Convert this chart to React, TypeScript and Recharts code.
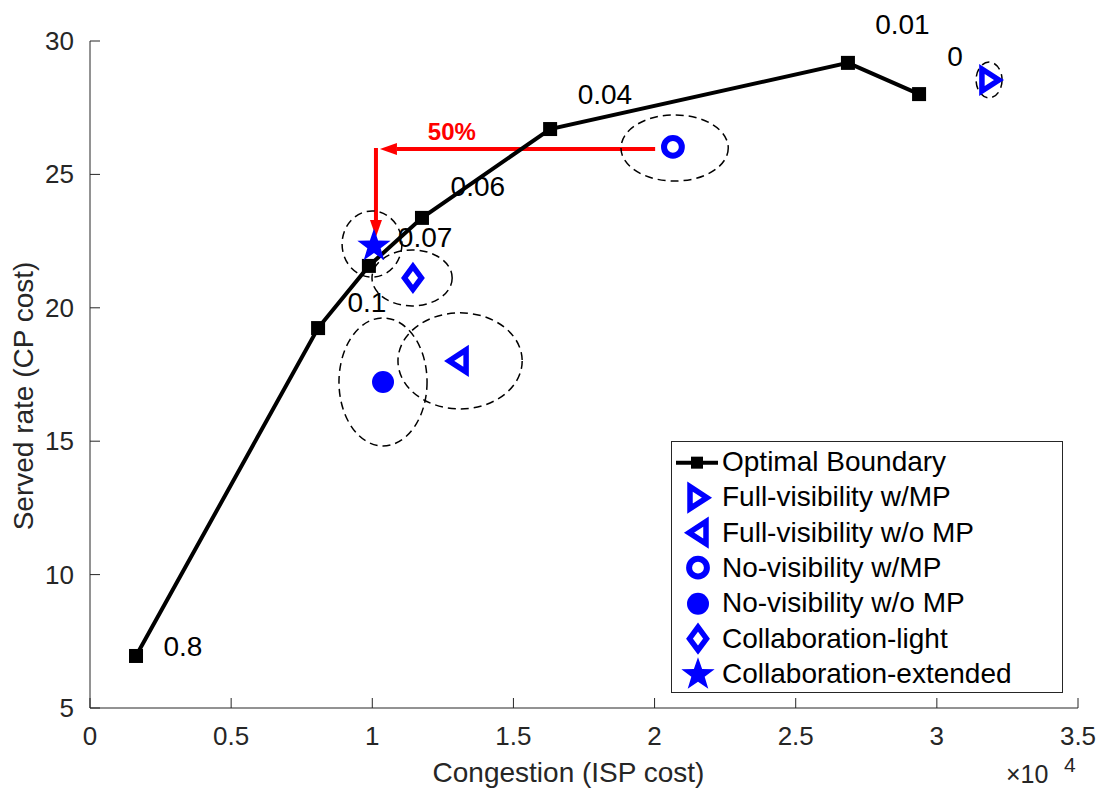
import React from "react";
import {
  ScatterChart,
  Scatter,
  XAxis,
  YAxis,
  ReferenceLine,
  ReferenceDot,
} from "recharts";

const FONT = "'Liberation Sans', Arial, Helvetica, sans-serif";
const BLUE = "#0000ff";
const RED = "#ff0000";
const AXIS = "#262626";

// chart frame
const W = 1102;
const H = 789;
const MARGIN = { top: 41, right: 24, left: 0, bottom: 0 };
const Y_AXIS_W = 90;
const X_AXIS_H = 81;

const X_TICKS = [0, 0.5, 1, 1.5, 2, 2.5, 3, 3.5];
const Y_TICKS = [5, 10, 15, 20, 25, 30];

// pixels per axis unit (used for the dashed spread ellipses)
const PX_X = (W - MARGIN.right - Y_AXIS_W) / 3.5;
const PX_Y = (H - MARGIN.top - X_AXIS_H) / 25;

// Optimal boundary (x in 1e4 units)
const boundaryX = [0.163, 0.808, 0.988, 1.176, 1.63, 2.685, 2.937];
const boundaryY = [6.95, 19.24, 21.57, 23.37, 26.7, 29.18, 28.01];

// weight labels along the boundary
const weightLabels = ["0.8", "0.1", "0.07", "0.06", "0.04", "0.01", "0"];
const weightLabelX = [0.329, 0.981, 1.187, 1.374, 1.824, 2.878, 3.064];
const weightLabelY = [7.29, 20.18, 22.62, 24.53, 27.99, 30.6, 29.42];

// schemes
const schemeNames = [
  "Full-visibility w/MP",
  "Full-visibility w/o MP",
  "No-visibility w/MP",
  "No-visibility w/o MP",
  "Collaboration-light",
  "Collaboration-extended",
];
const schemeMarkers = ["triRight", "triLeft", "circle", "dot", "diamond", "star"];
const schemeX = [3.188, 1.304, 2.065, 1.038, 1.144, 1.006];
const schemeY = [28.54, 18.01, 26.03, 17.22, 21.12, 22.35];

// spread of each scheme (dashed ellipses), half-widths in axis units
const spreadX = [3.185, 1.311, 2.071, 1.038, 1.141, 0.999];
const spreadY = [28.54, 18.01, 25.99, 17.22, 21.12, 22.39];
const spreadRx = [0.046, 0.22, 0.19, 0.156, 0.142, 0.106];
const spreadRy = [0.67, 1.8, 1.24, 2.4, 1.05, 1.24];

// red "50%" arrow
const arrowH = [
  { x: 2.002, y: 25.95 },
  { x: 1.027, y: 25.95 },
];
const arrowV = [
  { x: 1.013, y: 25.99 },
  { x: 1.013, y: 22.65 },
];

const boundary = boundaryX.map((x, i) => ({ x, y: boundaryY[i] }));
const spreads = spreadX.map((x, i) => ({
  x,
  y: spreadY[i],
  rx: spreadRx[i],
  ry: spreadRy[i],
}));

function starPoints(cx: number, cy: number, R: number, r: number) {
  const pts: string[] = [];
  for (let i = 0; i < 10; i++) {
    const rad = i % 2 === 0 ? R : r;
    const a = ((-90 + 36 * i) * Math.PI) / 180;
    pts.push(`${cx + rad * Math.cos(a)},${cy + rad * Math.sin(a)}`);
  }
  return pts.join(" ");
}

function Marker({ kind, cx, cy }: { kind: string; cx: number; cy: number }) {
  const sw = 5.5;
  switch (kind) {
    case "triRight":
      return (
        <polygon
          points={`${cx - 8},${cy - 11} ${cx + 9},${cy} ${cx - 8},${cy + 11}`}
          fill="none"
          stroke={BLUE}
          strokeWidth={sw}
        />
      );
    case "triLeft":
      return (
        <polygon
          points={`${cx + 8},${cy - 11} ${cx - 9},${cy} ${cx + 8},${cy + 11}`}
          fill="none"
          stroke={BLUE}
          strokeWidth={sw}
        />
      );
    case "circle":
      return <circle cx={cx} cy={cy} r={8.9} fill="none" stroke={BLUE} strokeWidth={6} />;
    case "dot":
      return <circle cx={cx} cy={cy} r={11} fill={BLUE} />;
    case "diamond":
      return (
        <polygon
          points={`${cx},${cy - 11.5} ${cx + 8.5},${cy} ${cx},${cy + 11.5} ${cx - 8.5},${cy}`}
          fill="none"
          stroke={BLUE}
          strokeWidth={sw}
        />
      );
    case "star":
      return <polygon points={starPoints(cx, cy + 1, 17.5, 7)} fill={BLUE} />;
    default:
      return null;
  }
}

const XTick = (p: any) => (
  <g>
    <line x1={p.x} y1={p.y} x2={p.x} y2={p.y - 10} stroke={AXIS} />
    <text
      x={p.x}
      y={p.y + 37}
      textAnchor="middle"
      fontSize={26}
      fill={AXIS}
      fontFamily={FONT}
    >
      {String(p.payload.value)}
    </text>
  </g>
);

const YTick = (p: any) => (
  <g>
    <line x1={p.x} y1={p.y} x2={p.x + 10} y2={p.y} stroke={AXIS} />
    <text
      x={p.x - 16}
      y={p.y + 9}
      textAnchor="end"
      fontSize={26}
      fill={AXIS}
      fontFamily={FONT}
    >
      {String(p.payload.value)}
    </text>
  </g>
);

const Arrow = (p: any) => {
  const { x1, y1, x2, y2 } = p;
  const len = Math.hypot(x2 - x1, y2 - y1) || 1;
  const ux = (x2 - x1) / len;
  const uy = (y2 - y1) / len;
  const hl = 17;
  const hw = 6;
  const bx = x2 - ux * hl;
  const by = y2 - uy * hl;
  return (
    <g>
      <line x1={x1} y1={y1} x2={bx} y2={by} stroke={RED} strokeWidth={4} />
      <polygon
        points={`${x2},${y2} ${bx - uy * hw},${by + ux * hw} ${bx + uy * hw},${by - ux * hw}`}
        fill={RED}
      />
    </g>
  );
};

function Legend() {
  const rowH = 35.33;
  return (
    <div
      style={{
        position: "absolute",
        left: 671,
        top: 441,
        width: 392,
        height: 252,
        border: `1px solid ${AXIS}`,
        background: "#fff",
        paddingTop: 2.5,
        boxSizing: "border-box",
        fontFamily: FONT,
        fontSize: 28,
        color: "#000",
      }}
    >
      <div style={{ display: "flex", alignItems: "center", height: rowH }}>
        <svg width={50} height={rowH}>
          <line x1={4} y1={rowH / 2} x2={46} y2={rowH / 2} stroke="#000" strokeWidth={4} />
          <rect x={19} y={rowH / 2 - 6} width={12} height={12} fill="#000" />
        </svg>
        <span style={{ lineHeight: 1, whiteSpace: "nowrap" }}>Optimal Boundary</span>
      </div>
      {schemeNames.map((name, i) => (
        <div key={name} style={{ display: "flex", alignItems: "center", height: rowH }}>
          <svg width={50} height={rowH}>
            <Marker kind={schemeMarkers[i]} cx={26} cy={rowH / 2} />
          </svg>
          <span style={{ lineHeight: 1, whiteSpace: "nowrap" }}>{name}</span>
        </div>
      ))}
    </div>
  );
}

export default function App() {
  return (
    <div style={{ position: "absolute", left: 0, top: 0, width: W, height: H, background: "#fff" }}>
      <ScatterChart width={W} height={H} margin={MARGIN}>
        <XAxis
          type="number"
          dataKey="x"
          domain={[0, 3.5]}
          ticks={X_TICKS}
          interval={0}
          height={X_AXIS_H}
          tickSize={0}
          tickMargin={0}
          tickLine={false}
          axisLine={{ stroke: AXIS, strokeWidth: 1 }}
          tick={<XTick />}
          label={{
            value: "Congestion (ISP cost)",
            content: () => (
              <g fontFamily={FONT} fill={AXIS}>
                <text x={568.5} y={782} textAnchor="middle" fontSize={28}>
                  Congestion (ISP cost)
                </text>
                <text x={1006} y={783} fontSize={25}>
                  ×10
                </text>
                <text x={1064} y={772} fontSize={21}>
                  4
                </text>
              </g>
            ),
          }}
        />
        <YAxis
          type="number"
          dataKey="y"
          domain={[5, 30]}
          ticks={Y_TICKS}
          interval={0}
          width={Y_AXIS_W}
          tickSize={0}
          tickMargin={0}
          tickLine={false}
          axisLine={{ stroke: AXIS, strokeWidth: 1 }}
          tick={<YTick />}
          label={{
            value: "Served rate (CP cost)",
            content: () => (
              <text
                x={33}
                y={396}
                transform="rotate(-90 33 396)"
                textAnchor="middle"
                fontSize={28}
                fill={AXIS}
                fontFamily={FONT}
              >
                Served rate (CP cost)
              </text>
            ),
          }}
        />

        <Scatter
          data={spreads}
          isAnimationActive={false}
          shape={(p: any) => {
            const d = p.payload ?? p;
            return (
              <ellipse
                cx={p.cx}
                cy={p.cy}
                rx={d.rx * PX_X}
                ry={d.ry * PX_Y}
                fill="none"
                stroke="#000"
                strokeWidth={1.5}
                strokeDasharray="8 5"
              />
            );
          }}
        />

        <ReferenceLine segment={arrowH} shape={<Arrow />} ifOverflow="visible" />
        <ReferenceLine segment={arrowV} shape={<Arrow />} ifOverflow="visible" />

        <Scatter
          data={boundary}
          isAnimationActive={false}
          line={{ stroke: "#000", strokeWidth: 4 }}
          lineType="joint"
          shape={(p: any) => (
            <rect x={p.cx - 7} y={p.cy - 7} width={14} height={14} fill="#000" />
          )}
        />

        {schemeNames.map((name, i) => (
          <Scatter
            key={name}
            name={name}
            data={[{ x: schemeX[i], y: schemeY[i] }]}
            isAnimationActive={false}
            shape={(p: any) => <Marker kind={schemeMarkers[i]} cx={p.cx} cy={p.cy} />}
          />
        ))}

        {weightLabels.map((t, i) => (
          <ReferenceDot
            key={t}
            x={weightLabelX[i]}
            y={weightLabelY[i]}
            r={0}
            ifOverflow="visible"
            shape={(p: any) => (
              <text
                x={p.cx}
                y={p.cy}
                textAnchor="middle"
                dominantBaseline="central"
                fontSize={28}
                fill="#000"
                fontFamily={FONT}
              >
                {t}
              </text>
            )}
          />
        ))}

        <ReferenceDot
          x={1.282}
          y={26.59}
          r={0}
          ifOverflow="visible"
          shape={(p: any) => (
            <text
              x={p.cx}
              y={p.cy}
              textAnchor="middle"
              dominantBaseline="central"
              fontSize={24}
              fontWeight="bold"
              fill={RED}
              fontFamily={FONT}
            >
              50%
            </text>
          )}
        />
      </ScatterChart>
      <Legend />
    </div>
  );
}
